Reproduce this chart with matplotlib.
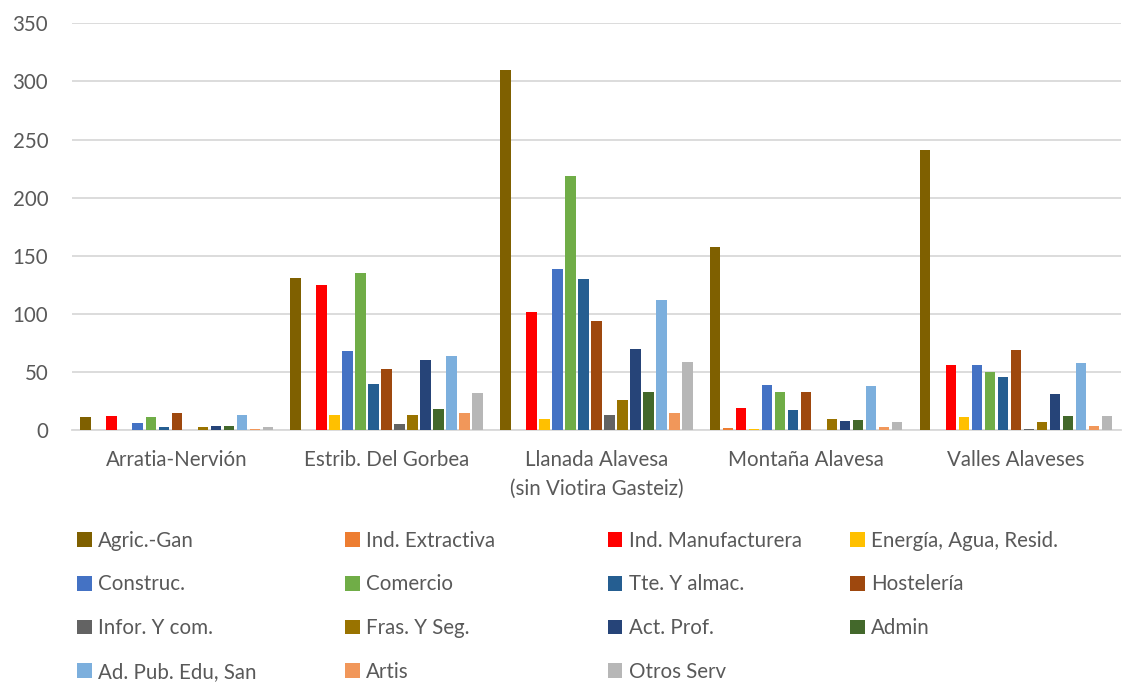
import matplotlib.pyplot as plt
import numpy as np

plt.rcParams['font.family'] = ['Lato', 'DejaVu Sans']

comarcas = ['Arratia-Nervión', 'Estrib. Del Gorbea', 'Llanada Alavesa\n(sin Viotira Gasteiz)',
            'Montaña Alavesa', 'Valles Alaveses']

sectores = ['Agric.-Gan', 'Ind. Extractiva', 'Ind. Manufacturera', 'Energía, Agua, Resid.',
            'Construc.', 'Comercio', 'Tte. Y almac.', 'Hostelería',
            'Infor. Y com.', 'Fras. Y Seg.', 'Act. Prof.', 'Admin',
            'Ad. Pub. Edu, San', 'Artis', 'Otros Serv']

colores = ['#7F6000', '#ED7D31', '#FF0000', '#FFC000',
           '#4472C4', '#70AD47', '#255E91', '#9E480E',
           '#636363', '#997300', '#264478', '#43682B',
           '#7CAFDD', '#F1975A', '#B7B7B7']

# valores por sector, en el orden de las comarcas
agric = [11, 131, 310, 158, 241]
extractiva = [0, 0, 0, 2, 0]
manufact = [12, 125, 102, 19, 56]
energia = [0, 13, 10, 1, 11]
construc = [6, 68, 139, 39, 56]
comercio = [11, 135, 219, 33, 50]
transporte = [3, 40, 130, 17, 46]
hosteleria = [15, 53, 94, 33, 69]
infor = [0, 5, 13, 0, 1]
finanzas = [3, 13, 26, 10, 7]
act_prof = [4, 60, 70, 8, 31]
admin = [4, 18, 33, 9, 12]
ad_pub = [13, 64, 112, 38, 58]
artis = [1, 15, 15, 3, 4]
otros = [3, 32, 59, 7, 12]

series = [agric, extractiva, manufact, energia, construc, comercio, transporte, hosteleria,
          infor, finanzas, act_prof, admin, ad_pub, artis, otros]

gris = '#595959'
fs = 14.8
fig = plt.figure(figsize=(11.23, 6.84), dpi=100)
ax = fig.add_axes([0.064, 0.371, 0.934, 0.595])

x = np.arange(len(comarcas))
paso = 0.062
ancho = 0.05
barras = []
for i, vals in enumerate(series):
    b = ax.bar(x + (i - 7) * paso, vals, width=ancho, color=colores[i], label=sectores[i], zorder=3)
    barras.append(b)

ax.set_xlim(-0.5, 4.5)
ax.set_ylim(0, 350)
ax.set_yticks(range(0, 351, 50))
ax.set_xticks(x)
ax.set_xticklabels(comarcas, linespacing=1.6)
ax.tick_params(axis='both', length=0, labelsize=fs, colors=gris)
ax.tick_params(axis='x', pad=14)
ax.tick_params(axis='y', pad=17)
ax.grid(axis='y', color='#D9D9D9', linewidth=1.3, zorder=0)
for lado in ['top', 'right', 'left']:
    ax.spines[lado].set_visible(False)
ax.spines['bottom'].set_color('#D9D9D9')
ax.spines['bottom'].set_linewidth(1.3)

# leyenda en 4 columnas, una leyenda por columna (el orden va por filas)
col_x = [0.0685, 0.307, 0.541, 0.757]
for c in range(4):
    idx = list(range(c, len(sectores), 4))
    leg = fig.legend(handles=[barras[i] for i in idx], labels=[sectores[i] for i in idx],
                     loc='upper left', bbox_to_anchor=(col_x[c], 0.224), frameon=False,
                     fontsize=fs, handlelength=0.72, handleheight=0.72, handletextpad=0.3,
                     labelspacing=1.15, labelcolor=gris, borderpad=0, borderaxespad=0)

fig.savefig('out.png', dpi=100)
